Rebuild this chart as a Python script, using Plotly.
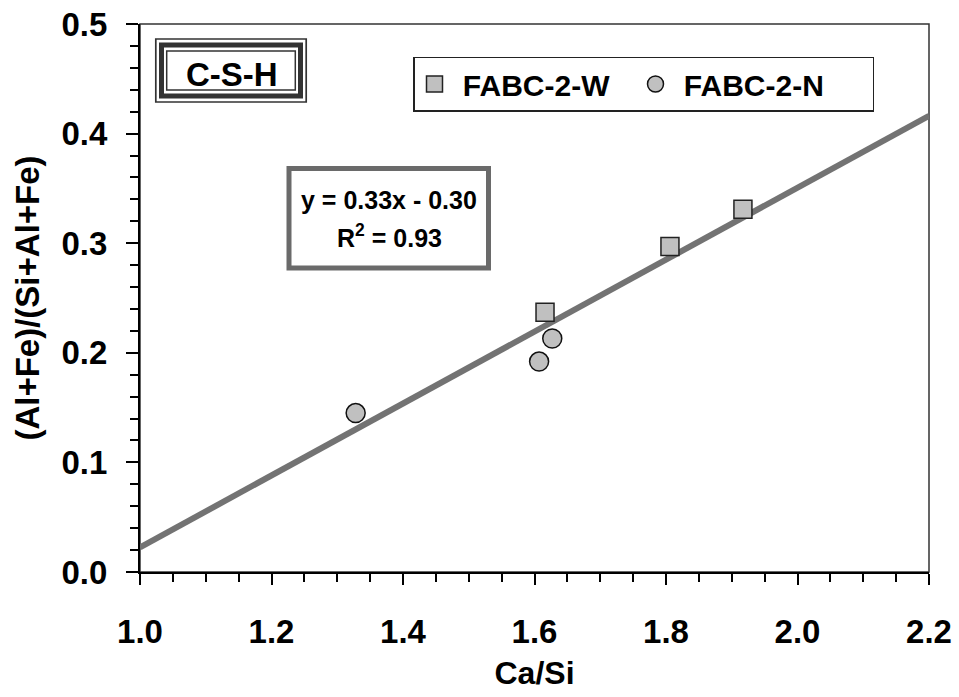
import numpy as np
import plotly.graph_objects as go

# ---- data ----
w_ca_si = [1.616, 1.806, 1.917]
w_ratio = [0.237, 0.297, 0.331]
n_ca_si = [1.328, 1.607, 1.627]
n_ratio = [0.145, 0.192, 0.213]
fit_x_range = [1.0, 2.2]
x_ticks = [1.0, 1.2, 1.4, 1.6, 1.8, 2.0, 2.2]
y_ticks = [0.0, 0.1, 0.2, 0.3, 0.4, 0.5]

all_x = np.array(w_ca_si + n_ca_si)
all_y = np.array(w_ratio + n_ratio)
slope, intercept = np.polyfit(all_x, all_y, 1)
fx = np.array(fit_x_range)
fy = slope * fx + intercept

W, H = 959, 697
L, R, T, B = 140, 30, 24, 125
PW, PH = W - L - R, H - T - B

def px(x):
    return (x - L) / PW

def py(y):
    return (H - B - y) / PH

FONT = "Liberation Sans, Arial, sans-serif"
NB = "\u00a0"
fig = go.Figure()

fig.add_trace(go.Scatter(x=fx, y=fy, mode="lines", showlegend=False,
                         line=dict(color="#737373", width=6), hoverinfo="skip"))
fig.add_trace(go.Scatter(x=w_ca_si, y=w_ratio, mode="markers", name=NB + "<b>FABC-2-W</b>",
                         legendwidth=176,
                         marker=dict(symbol="square", size=18, color="#c0c0c0",
                                     line=dict(color="#222", width=1.5))))
fig.add_trace(go.Scatter(x=n_ca_si, y=n_ratio, mode="markers", name=NB + "<b>FABC-2-N</b>",
                         legendwidth=192,
                         marker=dict(symbol="circle", size=19, color="#c0c0c0",
                                     line=dict(color="#111", width=1.5))))

shapes = []
# plot frame (top/right)
shapes.append(dict(type="rect", xref="paper", yref="paper", x0=0, x1=1, y0=0, y1=1,
                   line=dict(color="#333", width=1.5), layer="below"))
# C-S-H triple box
for (x0, x1, y0, y1, lw) in [(155.8, 306.2, 39.0, 102.0, 1.7),
                             (161.5, 300.5, 45.0, 96.0, 5),
                             (166.7, 295.3, 51.0, 90.0, 1.5)]:
    shapes.append(dict(type="rect", xref="paper", yref="paper",
                       x0=px(x0), x1=px(x1), y0=py(y1), y1=py(y0),
                       line=dict(color="#333", width=lw), fillcolor="rgba(0,0,0,0)"))
# equation box
shapes.append(dict(type="rect", xref="paper", yref="paper",
                   x0=px(289), x1=px(488.5), y0=py(268), y1=py(168.5),
                   line=dict(color="#6a6a6a", width=5), fillcolor="white"))

annotations = [
    dict(text="<b>C-S-H</b>", xref="paper", yref="paper", x=px(232), y=py(74),
         showarrow=False, font=dict(family=FONT, size=33, color="black"),
         xanchor="center", yanchor="middle"),
    dict(text="<b>y = 0.33x - 0.30</b>", xref="paper", yref="paper", x=px(389), y=py(200),
         showarrow=False, font=dict(family=FONT, size=25, color="black"),
         xanchor="center", yanchor="middle"),
    dict(text="<b>R<sup>2</sup> = 0.93</b>", xref="paper", yref="paper", x=px(389), y=py(236),
         showarrow=False, font=dict(family=FONT, size=25, color="black"),
         xanchor="center", yanchor="middle"),
]

fig.update_layout(
    width=W, height=H,
    margin=dict(l=L, r=R, t=T, b=B, autoexpand=False),
    paper_bgcolor="white", plot_bgcolor="white",
    font=dict(family=FONT, color="black"),
    shapes=shapes, annotations=annotations,
    legend=dict(orientation="h", x=px(413), y=py(56.5), xanchor="left", yanchor="top",
                bordercolor="#222", borderwidth=1.5, bgcolor="white",
                font=dict(family=FONT, size=30, color="black"),
                itemsizing="trace", entrywidthmode="pixels"),
    xaxis=dict(range=[1.0, 2.2], tickvals=x_ticks, ticktext=[f"<b>{v:.1f}</b>" for v in x_ticks],
               tickfont=dict(size=33, family=FONT, color="black"), automargin=False,
               showgrid=False, zeroline=False, showline=True, linecolor="black", linewidth=2,
               ticks="outside", ticklen=11, tickwidth=1.5, tickcolor="black",
               ticklabelstandoff=18,
               minor=dict(dtick=0.05, ticks="outside", ticklen=8, tickwidth=1.5, tickcolor="black"),
               title=dict(text="<b>Ca/Si</b>", font=dict(size=32, family=FONT, color="black"), standoff=13)),
    yaxis=dict(range=[0, 0.5], tickvals=y_ticks, ticktext=[f"<b>{v:.1f}</b>" for v in y_ticks],
               tickfont=dict(size=33, family=FONT, color="black"), automargin=False,
               showgrid=False, zeroline=False, showline=True, linecolor="black", linewidth=2,
               ticks="outside", ticklen=12, tickwidth=1.5, tickcolor="black",
               ticklabelstandoff=12,
               minor=dict(dtick=0.02, ticks="outside", ticklen=8, tickwidth=1.5, tickcolor="black"),
               title=dict(text="<b>(Al+Fe)/(Si+Al+Fe)</b>", font=dict(size=33, family=FONT, color="black"),
                          standoff=12)),
)

fig.write_html("out.html")
